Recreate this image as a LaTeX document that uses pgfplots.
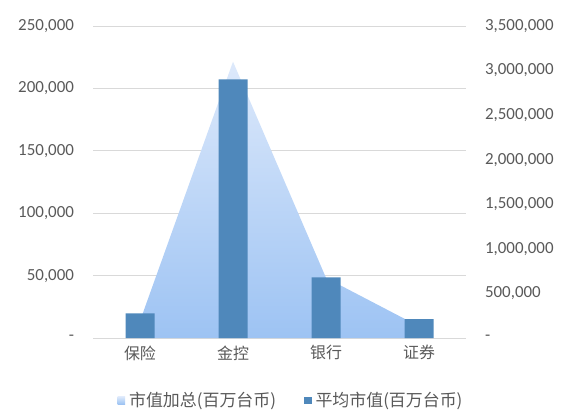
\documentclass[border=0pt]{standalone}
\usepackage{pgfplots}
\pgfplotsset{compat=1.18}
\usepackage{fontspec}
\setmainfont{Carlito}
\newfontfamily\cjk{Noto Sans CJK SC}
\definecolor{txt}{HTML}{595959}
\definecolor{barc}{HTML}{4F88BB}
\definecolor{areatop}{HTML}{DDE9FB}
\definecolor{areabot}{HTML}{9DC3F3}
\definecolor{gridc}{HTML}{D9D9D9}
\pgfplotsset{
  base/.style={at={(0,0)}, anchor=south west, scale only axis, width=372bp, height=312bp,
    xmin=-0.5, xmax=3.5, clip=false, scaled y ticks=false, major tick length=0pt},
  sq/.style={legend image code/.code={\path[##1] (0bp,-4bp) rectangle (7.5bp,3.5bp);}},
}
\begin{document}
\begin{tikzpicture}
\path[use as bounding box] (-93.5bp,-74bp) rectangle (473.5bp,338bp);
% grid, left labels, category labels
\begin{axis}[base, ymin=0, ymax=250000,
  ytick={0,50000,100000,150000,200000,250000},
  yticklabels={{-},{50,000},{100,000},{150,000},{200,000},{250,000}},
  ymajorgrids, grid style={gridc, line width=0.75bp},
  axis line style={draw=none},
  xtick={0,1,2,3}, xticklabels={保险,金控,银行,证券},
  xticklabel style={font=\cjk\fontsize{16}{18}\selectfont, text=txt, yshift=-4bp},
  yticklabel style={font=\fontsize{17}{19}\selectfont, text=txt, xshift=-16bp}]
\addplot[draw=none] coordinates {(0,0)};
\end{axis}
% area on right axis
\begin{axis}[base, ymin=0, ymax=3500000,
  axis x line=none, axis y line*=right, axis line style={draw=none},
  xtick=\empty,
  ytick={0,500000,1000000,1500000,2000000,2500000,3000000,3500000},
  yticklabels={{-},{500,000},{1,000,000},{1,500,000},{2,000,000},{2,500,000},{3,000,000},{3,500,000}},
  yticklabel style={font=\fontsize{17}{19}\selectfont, text=txt, xshift=16bp, anchor=west}]
\addplot[draw=none, top color=areatop, bottom color=areabot]
  coordinates {(0,190000) (1,3100000) (2,675000) (3,131000)} \closedcycle;
\end{axis}
% bars on left axis
\begin{axis}[base, ymin=0, ymax=250000, axis lines=none, xtick=\empty, ytick=\empty,
  legend columns=2,
  legend style={at={(0.531,-0.199)}, anchor=center, draw=none, fill=none,
    font=\cjk\fontsize{17}{19}\selectfont, text=txt,
    /tikz/every even column/.append style={column sep=26bp},
    /tikz/every odd column/.append style={column sep=2bp}}]
\addlegendimage{sq, draw=none, top color=areatop, bottom color=areabot}
\addlegendentry{市值加总(百万台币)}
\addplot[ybar, bar width=29bp, fill=barc, draw=none, sq]
  coordinates {(0,19800) (1,207300) (2,48600) (3,15200)};
\addlegendentry{平均市值(百万台币)}
\end{axis}
\end{tikzpicture}
\end{document}
